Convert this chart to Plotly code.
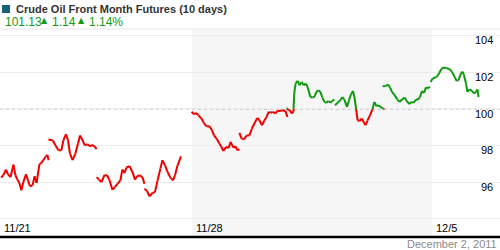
import plotly.graph_objects as go

# ---- data (x = hours since 11/21 session start, None = session gap) ----
hours = [
    0.5, 1.7, 3.0, 4.0, 5.3, 6.7, 7.7, 8.7, 9.7, 10.7, 11.7, 13.0, 14.0, 15.0, 16.3, 17.3, 18.3, 19.7, 20.7, 21.7, 22.7, 23.7, 24.3, None,
    24.2, 26.3, 27.7, 29.2, 30.7, 31.7, 33.0, 34.0, 35.0, 36.3, 37.7, 39.0, 40.0, 41.3, 42.3, 43.7, 45.0, 46.0, 47.3, 48.3, None,
    48.3, 49.5, 50.8, 52.2, 53.5, 54.8, 56.2, 57.5, 58.8, 60.2, 61.2, 62.2, 63.2, 64.8, 66.2, 67.5, 68.5, 69.8, 71.2, 72.2, None,
    72.2, 73.5, 74.8, 76.2, 77.5, 78.8, 80.2, 81.2, 82.5, 83.8, 85.2, 86.5, 87.5, 88.8, 90.5, None,
    95.8, 97.0, 98.0, 99.3, 100.7, 102.0, 103.3, 104.7, 106.0, 107.0, 108.3, 109.7, 110.7, 111.7, 113.0, 114.3, 115.3, 116.7, 117.7, 118.7, 119.7, None,
    119.7, 120.8, 122.0, 123.3, 124.7, 126.0, 127.3, 128.7, 129.7, 131.0, 132.3, 133.3, 134.3, 135.3, 136.3, 137.7, 138.7, 140.0, 141.3, 142.7, 143.7, None,
    143.3, 144.2, 145.0, 145.8, 146.7, 147.2, 147.8, 148.8, 149.8, 150.8, 151.8, 152.8, 153.8, 155.2, 156.2, 157.2, 158.2, 159.2, 160.2, 161.2, 162.2, 163.2, 164.2, 165.2, 166.2, 167.2, None,
    167.5, 168.8, 170.2, 171.2, 172.2, 173.5, 174.5, 175.5, 176.5, 177.2, 177.8, 178.8, 179.8, 180.8, 181.8, 182.8, 183.8, 185.0, 186.2, 187.2, 188.2, 189.2, 190.2, 191.2, 192.2, None,
    191.3, 192.7, 194.0, 195.0, 196.0, 197.3, 198.7, 199.7, 201.0, 202.3, 203.3, 204.7, 205.7, 206.7, 208.0, 209.0, 210.0, 211.0, 212.0, 213.0, 214.0, 215.0, None,
    215.3, 216.3, 217.7, 218.7, 219.7, 220.7, 222.0, 223.3, 224.7, 226.0, 227.3, 228.3, 229.3, 230.3, 231.3, 232.0, 233.0, 233.7, 234.7, 236.0, 237.0, 238.0, 238.7, 239.3,
]
prices = [
    96.24, 96.37, 96.68, 96.42, 96.27, 96.95, 96.37, 96.13, 95.95, 95.55, 96.00, 96.42, 96.09, 95.77, 95.82, 96.31, 95.95, 96.97, 97.04, 97.19, 97.37, 97.48, 97.19, None,
    98.32, 98.28, 98.01, 97.73, 97.73, 98.28, 98.61, 98.28, 97.55, 97.19, 97.55, 98.10, 98.54, 98.28, 98.01, 98.06, 97.95, 98.02, 97.95, 97.80, None,
    96.27, 96.13, 96.00, 96.37, 96.37, 96.09, 95.58, 95.73, 95.91, 96.09, 96.68, 96.49, 96.79, 96.86, 96.55, 96.13, 96.31, 96.37, 96.27, 95.91, None,
    95.64, 95.51, 95.22, 95.40, 95.45, 96.09, 96.73, 97.19, 96.91, 96.55, 96.24, 96.09, 96.37, 96.91, 97.40, None,
    99.83, 99.70, 99.77, 99.64, 99.46, 99.22, 99.04, 99.04, 98.83, 98.55, 98.37, 98.10, 97.91, 97.69, 97.91, 97.86, 98.19, 97.88, 97.95, 97.73, 97.80, None,
    98.68, 98.37, 98.33, 98.54, 98.54, 98.92, 99.22, 99.50, 99.37, 99.10, 99.37, 99.55, 99.83, 99.77, 99.83, 99.74, 99.88, 99.88, 99.92, 99.88, 99.55, None,
    100.04, 99.92, 99.92, 99.74, 99.83, 100.92, 101.38, 101.52, 101.28, 101.46, 101.28, 101.38, 101.19, 100.64, 100.61, 100.64, 100.92, 101.01, 100.92, 100.61, 100.37, 100.32, 100.43, 100.32, 100.43, 100.50, None,
    100.19, 100.32, 100.46, 100.64, 100.50, 100.10, 100.46, 100.79, 100.97, 100.64, 100.19, 99.37, 99.33, 99.46, 99.28, 99.10, 99.37, 99.64, 99.96, 100.37, 100.14, 100.19, 100.10, 100.03, 99.97, None,
    101.23, 101.23, 101.32, 101.16, 100.92, 100.74, 100.50, 100.37, 100.50, 100.61, 100.43, 100.25, 100.37, 100.32, 100.50, 100.50, 100.64, 100.97, 100.86, 101.16, 101.12, 101.19, None,
    101.46, 101.65, 101.70, 101.78, 101.96, 102.17, 102.25, 102.21, 102.17, 102.01, 101.74, 101.52, 101.56, 101.89, 102.03, 101.83, 101.38, 100.92, 101.05, 100.97, 100.83, 100.92, 101.05, 100.64,
]
prev_close = 99.99
week_ticks = [0, 96, 216]
week_labels = ["11/21", "11/28", "12/5"]
shade_range = [96, 216]
y_ticks = [96, 98, 100, 102, 104]
grid_vals = [94, 96, 98, 100, 102, 104]
title_text = "Crude Oil Front Month Futures (10 days)"
header_parts = ["101.13", "▲", "1.14", "▲", "1.14%"]

RED = "#ee0000"
GREEN = "#0e9a0e"
date_text = "December 2, 2011"


def split_colors(xs, ys, base):
    gx, gy, rx, ry = [], [], [], []
    prev = None
    for x, y in zip(xs, ys):
        if x is None or y is None:
            prev = None
            continue
        if prev is None:
            prev = (x, y)
            continue
        x0, y0 = prev
        up0 = y0 >= base
        up1 = y >= base
        if up0 == up1:
            tx, ty = (gx, gy) if up0 else (rx, ry)
            tx += [x0, x, None]; ty += [y0, y, None]
        else:
            t = (base - y0) / (y - y0)
            xc = x0 + t * (x - x0)
            a = (gx, gy) if up0 else (rx, ry)
            b = (gx, gy) if up1 else (rx, ry)
            a[0].extend([x0, xc, None]); a[1].extend([y0, base, None])
            b[0].extend([xc, x, None]); b[1].extend([base, y, None])
        prev = (x, y)
    return gx, gy, rx, ry


gx, gy, rx, ry = split_colors(hours, prices, prev_close)

fig = go.Figure()
fig.add_trace(go.Scatter(x=rx, y=ry, mode="lines", line=dict(color=RED, width=2),
                         connectgaps=False, hoverinfo="skip"))
fig.add_trace(go.Scatter(x=gx, y=gy, mode="lines", line=dict(color=GREEN, width=2),
                         connectgaps=False, hoverinfo="skip"))

FONT = "Liberation Sans, Arial, sans-serif"
shapes = [
    dict(type="rect", xref="x", yref="paper", x0=shade_range[0], x1=shade_range[1], y0=0, y1=1,
         fillcolor="#f6f6f6", line_width=0, layer="below"),
    dict(type="line", xref="paper", yref="y", x0=0, x1=1, y0=prev_close, y1=prev_close,
         line=dict(color="#9a9a9a", width=1, dash="dot"), layer="below"),
    dict(type="line", xref="paper", yref="paper", x0=0, x1=1, y0=1, y1=1,
         line=dict(color="#e8e8e8", width=1)),
    dict(type="line", xref="paper", yref="paper", x0=0, x1=1, y0=0, y1=0,
         line=dict(color="#000000", width=2.5)),
    dict(type="rect", xref="paper", yref="paper", xsizemode="pixel", ysizemode="pixel",
         xanchor=0, yanchor=1, x0=2, x1=10, y0=16, y1=24,
         fillcolor="#1a5f7a", line_width=0),
]

annotations = []
for v in y_ticks:
    annotations.append(dict(x=1, xref="paper", y=v, yref="y", text=str(v), showarrow=False,
                            xanchor="right", yanchor="middle", xshift=-5, yshift=-5,
                            font=dict(family=FONT, size=11, color="#000")))
for t, lab in zip(week_ticks, week_labels):
    annotations.append(dict(x=t, xref="x", y=0, yref="paper", text=lab, showarrow=False,
                            xanchor="left", yanchor="middle", xshift=2, yshift=9,
                            font=dict(family=FONT, size=11, color="#000")))
annotations.append(dict(x=1, xref="paper", y=0, yref="paper", text=date_text, showarrow=False,
                        xanchor="right", yanchor="middle", xshift=-1, yshift=-7,
                        font=dict(family=FONT, size=11, color="#8a8a8a")))
annotations.append(dict(x=0, xref="paper", y=1, yref="paper", text="<b>" + title_text + "</b>",
                        showarrow=False, xanchor="left", yanchor="middle", xshift=14, yshift=20,
                        font=dict(family=FONT, size=11, color="#333333")))
part_x = [3, 39, 50, 76, 87]
is_tri = [False, True, False, True, False]
for px, tri, txt in zip(part_x, is_tri, header_parts):
    annotations.append(dict(x=0, xref="paper", y=1, yref="paper", text=txt,
                            showarrow=False, xanchor="left", yanchor="middle", xshift=px,
                            yshift=9 if tri else 7,
                            font=dict(family="DejaVu Sans" if tri else FONT,
                                      size=8 if tri else 12, color="#119911")))

fig.update_layout(
    width=500, height=250,
    margin=dict(l=0, r=0, t=29, b=13),
    paper_bgcolor="white", plot_bgcolor="white",
    showlegend=False,
    xaxis=dict(range=[0, 250], showgrid=False, zeroline=False, showticklabels=False,
               showline=False, fixedrange=True),
    yaxis=dict(range=[93.0, 104.35], tickvals=grid_vals, showticklabels=False,
               gridcolor="#ececec", gridwidth=1, zeroline=False, showline=False, fixedrange=True),
    shapes=shapes,
    annotations=annotations,
)

fig.write_html("out.html")
